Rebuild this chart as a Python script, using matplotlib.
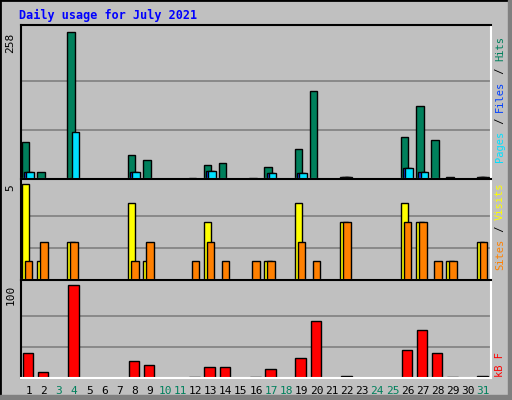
import numpy as np
import matplotlib.pyplot as plt
from matplotlib.patches import Rectangle

days = np.arange(1, 32)
hits = [65, 12, 0, 258, 0, 0, 0, 42, 33, 0, 0, 2, 25, 28, 0, 2, 21, 0, 53, 154,
        0, 3, 0, 0, 0, 74, 128, 68, 3, 0, 4]
files = [12, 0, 0, 2, 0, 0, 0, 12, 0, 0, 0, 0, 14, 0, 0, 0, 10, 0, 10, 0,
         0, 3, 0, 0, 0, 19, 12, 0, 0, 0, 3]
pages = [12, 0, 0, 82, 0, 0, 0, 12, 0, 0, 0, 0, 14, 0, 0, 0, 10, 0, 10, 0,
         0, 3, 0, 0, 0, 19, 12, 0, 0, 0, 3]
visits = [5, 1, 0, 2, 0, 0, 0, 4, 1, 0, 0, 0, 3, 0, 0, 0, 1, 0, 4, 0,
          0, 3, 0, 0, 0, 4, 3, 0, 1, 0, 2]
sites = [1, 2, 0, 2, 0, 0, 0, 1, 2, 0, 0, 1, 2, 1, 0, 1, 1, 0, 2, 1,
         0, 3, 0, 0, 0, 3, 3, 1, 1, 0, 2]
kbytes = [27, 6, 0, 100, 0, 0, 0, 18, 14, 0, 0, 1, 12, 12, 0, 1, 10, 0, 21, 61,
          0, 2, 0, 0, 0, 30, 51, 27, 1, 0, 2]
weekend = [3, 4, 10, 11, 17, 18, 24, 25, 31]

W, H = 512, 400
fig = plt.figure(figsize=(W / 100, H / 100), dpi=100)
fig.patch.set_facecolor('#C0C0C0')
fig.patches.append(Rectangle((0, 0), 1, 1, transform=fig.transFigure, fill=False,
                             edgecolor='black', lw=2))
fig.patches.append(Rectangle((508 / W, 0), 4 / W, 1, transform=fig.transFigure,
                             color='#808080'))
fig.patches.append(Rectangle((0, 0), 1, 5 / H, transform=fig.transFigure,
                             color='#808080'))

mono = 'DejaVu Sans Mono'

def panel(top, bottom, ymax):
    ax = fig.add_axes([21 / W, 1 - bottom / H, 470 / W, (bottom - top) / H])
    ax.set_facecolor('#C0C0C0')
    ax.set_xlim(0.5, 31.5)
    ax.set_ylim(0, ymax * 1.05)
    for y in (ymax / 3, 2 * ymax / 3):
        ax.axhline(y, color='#808080', lw=1.2, zorder=0)
    ax.set_xticks([])
    ax.set_yticks([])
    for s in ('top', 'left'):
        ax.spines[s].set_color('black')
    for s in ('bottom', 'right'):
        ax.spines[s].set_color('white')
    for s in ax.spines.values():
        s.set_linewidth(1.5)
    ax.text(-0.012, 1 - 0.05 / 1.05, str(ymax), transform=ax.transAxes, rotation=90,
            ha='right', va='top', fontsize=8, family=mono)
    return ax

ax1 = panel(25, 179, 258)
ax1.bar(days - 0.45, hits, 0.5, align='edge', color='#00805C', edgecolor='black', lw=1)
ax1.bar(days - 0.3, files, 0.5, align='edge', color='#0040FF', edgecolor='black', lw=1)
ax1.bar(days - 0.15, pages, 0.5, align='edge', color='#00E0FF', edgecolor='black', lw=1)

ax2 = panel(179, 280, 5)
ax2.bar(days - 0.45, visits, 0.5, align='edge', color='#FFFF00', edgecolor='black', lw=1)
ax2.bar(days - 0.25, sites, 0.5, align='edge', color='#FF8000', edgecolor='black', lw=1)

ax3 = panel(280, 378, 100)
ax3.bar(days - 0.4, kbytes, 0.7, align='edge', color='#FF0000', edgecolor='black', lw=1)
for d in days:
    ax3.text(d, -0.08, str(d), transform=ax3.get_xaxis_transform(), ha='center',
             va='top', fontsize=8, family=mono,
             color='#00805C' if d in weekend else 'black')

fig.text(19 / W, 1 - 15 / H, 'Daily usage for July 2021', color='#0000FF',
         fontsize=8.5, weight='bold', family=mono, va='center')

def side(parts, x, ybot):
    y = ybot
    for txt, col in parts:
        fig.text(x / W, 1 - y / H, txt, rotation=90, color=col, fontsize=7.5,
                 family=mono, ha='center', va='bottom')
        y -= len(txt) * 6.3

side([('Pages', '#00E0FF'), (' / ', 'black'), ('Files', '#0040FF'), (' / ', 'black'),
      ('Hits', '#00805C')], 500, 162)
side([('Sites', '#FF8000'), (' / ', 'black'), ('Visits', '#FFFF00')], 500, 270)
side([('kB F', '#FF0000')], 500, 377)

fig.savefig('out.png', dpi=100, facecolor=fig.get_facecolor())
